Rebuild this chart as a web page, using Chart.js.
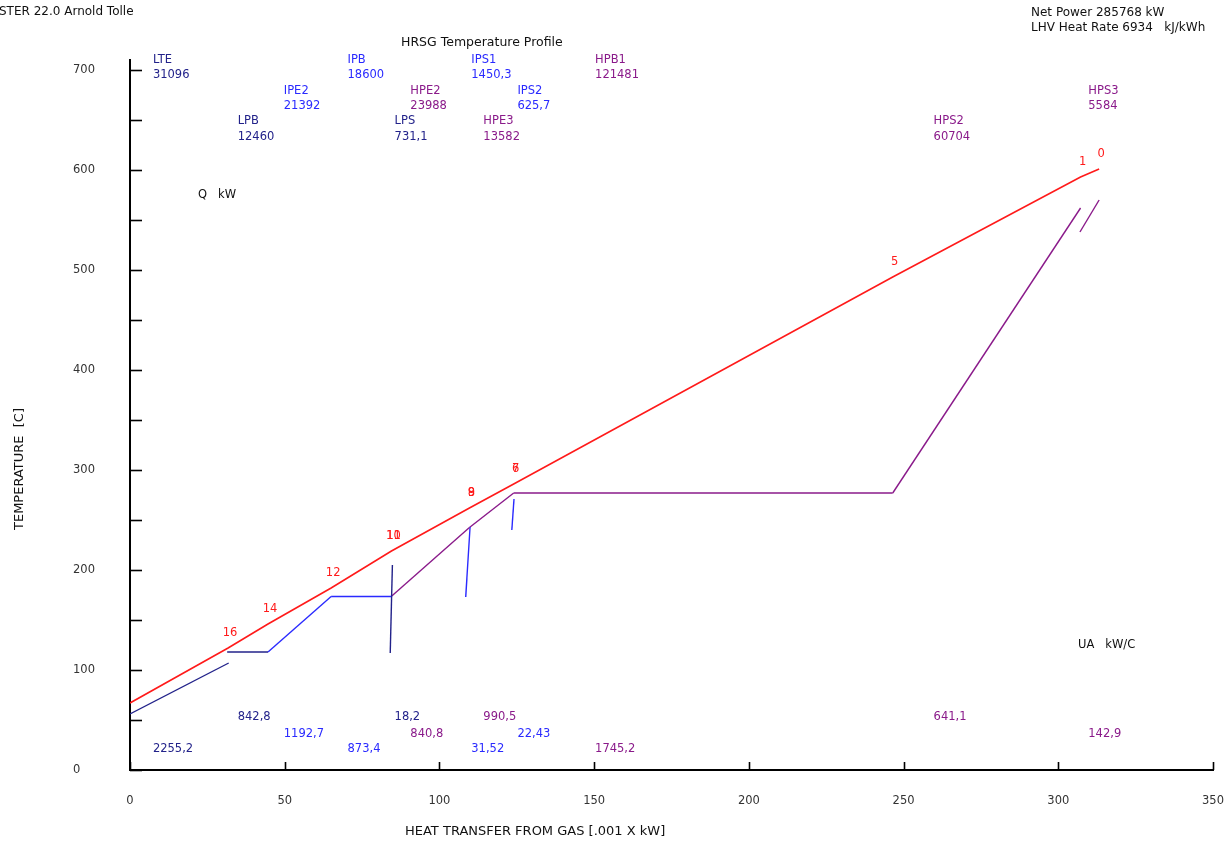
<!DOCTYPE html>
<html><head><meta charset="utf-8">
<script src="https://cdn.jsdelivr.net/npm/chart.js@4/dist/chart.umd.min.js"></script>
<style>html,body{margin:0;padding:0;background:#fff;overflow:hidden}canvas{display:block}</style>
</head><body>
<canvas id="c" width="1227" height="842"></canvas>
<script>
// ---------- DATA ----------
const xTickValues = [0, 50, 100, 150, 200, 250, 300, 350];
const yTickValues = [0, 50, 100, 150, 200, 250, 300, 350, 400, 450, 500, 550, 600, 650, 700];

// gas line (heat transferred from gas, .001 x kW ; temperature C)
const gasQ = [0, 31.7, 44.6, 65, 84.5, 109.7, 124, 246.5, 307.2, 313.2];
const gasT = [67, 122, 146, 182, 219, 262, 286, 493, 593, 601];
const gasPointLabels = [[], ['16'], ['14'], ['12'], ['10', '11'], ['8', '9'], ['6', '7'], ['5'], ['1'], ['0']];

// water / steam sections
const sectionNames = ['LTE', 'LPB', 'IPE2', 'IPB', 'LPS', 'HPE2', 'IPS1', 'HPE3', 'IPS2', 'HPB1', 'HPS2', 'HPS3'];
const sectionDuty  = ['31096', '12460', '21392', '18600', '731,1', '23988', '1450,3', '13582', '625,7', '121481', '60704', '5584'];
const sectionUA    = ['2255,2', '842,8', '1192,7', '873,4', '18,2', '840,8', '31,52', '990,5', '22,43', '1745,2', '641,1', '142,9'];
const sectionGroup = ['LP', 'LP', 'IP', 'IP', 'LP', 'HP', 'IP', 'HP', 'IP', 'HP', 'HP', 'HP'];
const sectionQ = [[0, 31.9], [31.4, 44.6], [44.6, 65], [65, 84.4], [84.1, 84.8], [84.6, 109.7], [108.5, 109.9], [109.7, 124], [123.4, 124.1], [124, 246.5], [246.5, 307.2], [307.0, 313.2]];
const sectionT = [[56, 107], [118, 118], [118, 173.5], [173.5, 173.5], [117, 205], [174, 242.5], [173, 243], [242.5, 277], [240, 271], [277, 277], [277, 562], [538, 570]];

// ---------- LAYOUT / STYLE ----------
const groupColor = { LP: '#22228a', IP: '#2a2aff', HP: '#8a1a8a' };
const gasColor = '#ff1a1a';
const labelAnchorQ = [7.4, 34.8, 49.7, 70.3, 85.5, 90.6, 110.3, 114.2, 125.2, 150.3, 259.7, 309.7];
const labelRow = [0, 2, 1, 0, 2, 1, 0, 2, 1, 0, 2, 1];
const topRowPx = [[60, 75], [91, 106], [121, 137]];
const bottomRowPx = [749, 734, 717];
const FONT = '"DejaVu Sans", Verdana, sans-serif';
const FS = 11.5;

const datasets = [{
  data: gasQ.map((q, i) => ({ x: q, y: gasT[i] })),
  borderColor: gasColor, borderWidth: 1.6, showLine: true, pointRadius: 0, tension: 0
}];
sectionNames.forEach((n, i) => {
  datasets.push({
    label: n,
    data: sectionQ[i].map((q, j) => ({ x: q, y: sectionT[i][j] })),
    borderColor: groupColor[sectionGroup[i]], borderWidth: 1.4, showLine: true, pointRadius: 0, tension: 0
  });
});

const textPlugin = {
  id: 'texts',
  afterDraw(chart) {
    const ctx = chart.ctx;
    const xs = chart.scales.x, ys = chart.scales.y;
    const a = chart.chartArea;
    ctx.save();
    // inner tick marks
    ctx.strokeStyle = '#000'; ctx.lineWidth = 1.6;
    yTickValues.forEach(v => {
      const y = Math.round(ys.getPixelForValue(v)) + 0.5;
      ctx.beginPath(); ctx.moveTo(a.left, y); ctx.lineTo(a.left + 12, y); ctx.stroke();
    });
    xTickValues.forEach(v => {
      const x = Math.round(xs.getPixelForValue(v)) + 0.5;
      ctx.beginPath(); ctx.moveTo(x, a.bottom); ctx.lineTo(x, a.bottom - 8); ctx.stroke();
    });
    ctx.textBaseline = 'middle';
    ctx.fillStyle = '#111';
    ctx.textAlign = 'left';
    ctx.font = '12px ' + FONT;
    ctx.fillText('STER 22.0 Arnold Tolle', -1, 12);
    ctx.fillText('Net Power 285768 kW', 1031, 13);
    ctx.fillText('LHV Heat Rate 6934   kJ/kWh', 1031, 28);
    ctx.font = '12.5px ' + FONT;
    ctx.fillText('HRSG Temperature Profile', 401, 43);
    ctx.font = FS + 'px ' + FONT;
    ctx.fillText('Q   kW', 198, 195);
    ctx.fillText('UA   kW/C', 1078, 645);
    ctx.font = '13px ' + FONT;
    ctx.fillText('HEAT TRANSFER FROM GAS [.001 X kW]', 405, 832);
    ctx.save();
    ctx.translate(20, 469); ctx.rotate(-Math.PI / 2);
    ctx.textAlign = 'center';
    ctx.fillText('TEMPERATURE  [C]', 0, 0);
    ctx.restore();
    // section labels
    ctx.font = FS + 'px ' + FONT;
    sectionNames.forEach((n, i) => {
      const x = xs.getPixelForValue(labelAnchorQ[i]);
      const r = labelRow[i];
      ctx.fillStyle = groupColor[sectionGroup[i]];
      ctx.fillText(n, x, topRowPx[r][0]);
      ctx.fillText(sectionDuty[i], x, topRowPx[r][1]);
      ctx.fillText(sectionUA[i], x, bottomRowPx[r]);
    });
    // gas point numbers
    ctx.fillStyle = gasColor;
    ctx.textAlign = 'center';
    gasPointLabels.forEach((labs, i) => {
      const x = xs.getPixelForValue(gasQ[i]);
      const y = ys.getPixelForValue(gasT[i]) - 15;
      labs.forEach(t => ctx.fillText(t, x + 2, y));
    });
    ctx.restore();
  }
};

new Chart(document.getElementById('c'), {
  type: 'scatter',
  data: { datasets },
  options: {
    responsive: false, animation: false, devicePixelRatio: 1,
    layout: { padding: { left: 73, top: 60, right: 14, bottom: 0 } },
    plugins: { legend: { display: false }, tooltip: { enabled: false }, title: { display: false } },
    scales: {
      x: {
        type: 'linear', min: 0, max: 350,
        afterBuildTicks: s => { s.ticks = xTickValues.map(v => ({ value: v })); },
        afterFit: s => { s.height = 72; },
        grid: { display: true, drawOnChartArea: false, drawTicks: true, tickLength: 22, color: 'rgba(0,0,0,0)' },
        border: { display: true, color: '#000', width: 2 },
        ticks: { padding: 2, color: '#333', font: { family: FONT, size: FS }, maxRotation: 0, autoSkip: false }
      },
      y: {
        type: 'linear', min: 0, max: 710,
        afterBuildTicks: s => { s.ticks = yTickValues.map(v => ({ value: v })); },
        afterFit: s => { s.width = 57; },
        grid: { display: false, drawTicks: false },
        border: { display: true, color: '#000', width: 2 },
        ticks: { crossAlign: 'far', padding: 0, color: '#333', font: { family: FONT, size: FS }, autoSkip: false,
          callback: v => (v % 100 === 0 ? String(v) : '') }
      }
    }
  },
  plugins: [textPlugin]
});
</script>
</body></html>
